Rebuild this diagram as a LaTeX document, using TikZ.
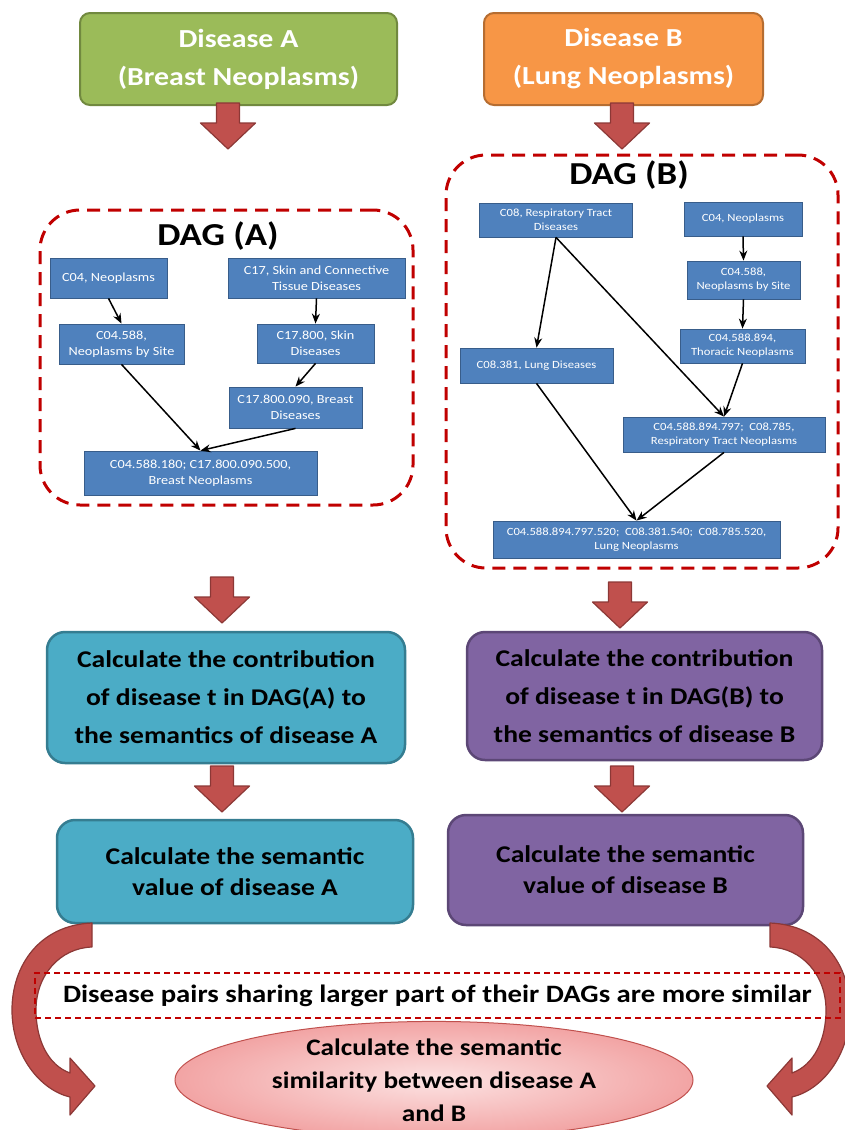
\documentclass[tikz,border=0pt]{standalone}
\usepackage{fontspec}
\setmainfont{Carlito}[FakeStretch=1.15]
\usetikzlibrary{arrows.meta,shapes.geometric}
\definecolor{leafgreen}{HTML}{9BBB59}
\definecolor{leafgreendark}{HTML}{71893F}
\definecolor{peach}{HTML}{F79646}
\definecolor{peachdark}{HTML}{B66D31}
\definecolor{brick}{HTML}{C0504D}
\definecolor{brickdark}{HTML}{8C3836}
\definecolor{meshblue}{HTML}{4F81BD}
\definecolor{meshbluedark}{HTML}{385D8A}
\definecolor{aqua}{HTML}{4BACC6}
\definecolor{aquadark}{HTML}{357D91}
\definecolor{grape}{HTML}{8064A2}
\definecolor{grapedark}{HTML}{5C4776}
\definecolor{dagred}{HTML}{C00000}
\definecolor{rosein}{HTML}{FCE2E2}
\definecolor{roseout}{HTML}{F2A4A4}
\tikzstyle{disease}=[draw, line width=2pt, rounded corners=10pt, text=white, align=center, inner sep=0pt, font=\bfseries\fontsize{26}{38}\selectfont]
\tikzstyle{dagframe}=[draw=dagred, line width=3pt, dash pattern=on 13pt off 8pt, rounded corners=40pt, inner sep=0pt]
\tikzstyle{dagtitle}=[inner sep=0pt, font=\bfseries\fontsize{32}{36}\selectfont]
\tikzstyle{term}=[draw=meshbluedark, fill=meshblue, line width=0.8pt, text=white, align=center, inner sep=0pt]
\tikzstyle{termA}=[term, font=\fontsize{12.4}{16}\selectfont]
\tikzstyle{termB}=[term, font=\fontsize{11}{14}\selectfont]
\tikzstyle{isa}=[-{Stealth[length=10pt,width=8pt]}, line width=1.5pt]
\tikzstyle{calcbox}=[draw, line width=2.5pt, rounded corners=18pt, align=center, inner sep=0pt, font=\bfseries\fontsize{24}{38}\selectfont]
\tikzstyle{valuebox}=[calcbox, font=\bfseries\fontsize{24}{31}\selectfont]
\tikzstyle{redarrow}=[fill=brick, draw=brickdark, line width=1.2pt, line join=round]
\tikzset{downarrow/.pic={\draw[redarrow] (-11.5,0) -- (11.5,0) -- (11.5,20) -- (27.5,20) -- (0,46) -- (-27.5,20) -- (-11.5,20) -- cycle;}}

\begin{document}
\begin{tikzpicture}[x=1pt, y=-1pt]
\useasboundingbox (0,0) rectangle (845,1130);
% Diseases
    \node[disease, fill=leafgreen, draw=leafgreendark, minimum width=317pt, minimum height=92pt] (disA) at (238.5,59) {Disease A\\(Breast Neoplasms)};
    \node[disease, fill=peach, draw=peachdark, minimum width=279pt, minimum height=92pt] (disB) at (623.5,59) {Disease B\\(Lung Neoplasms)};
    \pic at (228,103) {downarrow};
    \pic at (622,103) {downarrow};
% DAG frames
    \node[dagframe, minimum width=373pt, minimum height=295pt] (dagA) at (226.5,357.5) {};
    \node[dagframe, minimum width=392pt, minimum height=413pt] (dagB) at (642,361.5) {};
    \node[dagtitle] (titA) at (218,236) {DAG (A)};
    \node[dagtitle] (titB) at (629,175) {DAG (B)};
% DAG (A)
    \node[termA, minimum width=117pt, minimum height=40pt] (a04) at (108.5,278) {C04, Neoplasms};
    \node[termA, minimum width=177pt, minimum height=40pt] (a17) at (316.5,278) {C17, Skin and Connective\\Tissue Diseases};
    \node[termA, minimum width=125pt, minimum height=40pt] (a588) at (121.5,344) {C04.588,\\Neoplasms by Site};
    \node[termA, minimum width=117pt, minimum height=39pt] (a800) at (315.5,343.5) {C17.800, Skin\\Diseases};
    \node[termA, minimum width=133pt, minimum height=41pt] (a090) at (295.5,407.5) {C17.800.090, Breast\\Diseases};
    \node[termA, minimum width=233pt, minimum height=44pt] (aBN) at (200.5,473) {C04.588.180; C17.800.090.500,\\Breast Neoplasms};
    \draw[isa] (a04.south) -- (a588.north);
    \draw[isa] (a17.south) -- (a800.north);
    \draw[isa] (a800.south) -- (a090.north);
    \draw[isa] (a588.south) -- (aBN.north);
    \draw[isa] (a090.south) -- (aBN.north);
% DAG (B)
    \node[termB, minimum width=153pt, minimum height=34pt] (b08) at (556,220) {C08, Respiratory Tract\\Diseases};
    \node[termB, minimum width=118pt, minimum height=34pt] (b04) at (743,219) {C04, Neoplasms};
    \node[termB, minimum width=113pt, minimum height=38pt] (b588) at (743.5,280) {C04.588,\\Neoplasms by Site};
    \node[termB, minimum width=125pt, minimum height=34pt] (b894) at (742.5,346) {C04.588.894,\\Thoracic Neoplasms};
    \node[termB, minimum width=153pt, minimum height=35pt] (b381) at (536.5,365.5) {C08.381, Lung Diseases};
    \node[termB, minimum width=202pt, minimum height=35pt] (b797) at (724,434.5) {C04.588.894.797;\ \ C08.785,\\Respiratory Tract Neoplasms};
    \node[termB, minimum width=287pt, minimum height=37pt] (bLN) at (636.5,539.5) {C04.588.894.797.520;\ \ C08.381.540;\ \ C08.785.520,\\Lung Neoplasms};
    \draw[isa] (b08.south) -- (b381.north);
    \draw[isa] (b08.south) -- (b797.north);
    \draw[isa] (b04.south) -- (b588.north);
    \draw[isa] (b588.south) -- (b894.north);
    \draw[isa] (b894.south) -- (b797.north);
    \draw[isa] (b381.south) -- (bLN.north);
    \draw[isa] (b797.south) -- (bLN.north);
% Contributions and semantic values
    \pic at (222,577) {downarrow};
    \pic at (620,582) {downarrow};
    \node[calcbox, fill=aqua, draw=aquadark, minimum width=358pt, minimum height=131pt] (contA) at (226,697.5) {Calculate the contribution\\of disease t in DAG(A) to\\the semantics of disease A};
    \node[calcbox, fill=grape, draw=grapedark, minimum width=355pt, minimum height=128pt] (contB) at (644.5,696) {Calculate the contribution\\of disease t in DAG(B) to\\the semantics of disease B};
    \pic at (222,766) {downarrow};
    \pic at (622,766) {downarrow};
    \node[valuebox, fill=aqua, draw=aquadark, minimum width=356pt, minimum height=103pt] (valA) at (235,871.5) {Calculate the semantic\\value of disease A};
    \node[valuebox, fill=grape, draw=grapedark, minimum width=355pt, minimum height=110pt] (valB) at (625.5,870) {Calculate the semantic\\value of disease B};
% Curved arrows
    \draw[redarrow] (92,923) .. controls (40,925) and (12,965) .. (12,1010) .. controls (12,1055) and (40,1090) .. (70,1097) -- (70,1115) -- (95,1086) -- (70,1058) -- (70,1073) .. controls (48,1065) and (36,1040) .. (36,1010) .. controls (36,975) and (60,948) .. (92,947) -- cycle;
    \begin{scope}[xshift=862pt, xscale=-1]
    \draw[redarrow] (92,923) .. controls (40,925) and (12,965) .. (12,1010) .. controls (12,1055) and (40,1090) .. (70,1097) -- (70,1115) -- (95,1086) -- (70,1058) -- (70,1073) .. controls (48,1065) and (36,1040) .. (36,1010) .. controls (36,975) and (60,948) .. (92,947) -- cycle;
    \end{scope}
% Similarity
    \node[draw=dagred, line width=1.8pt, dash pattern=on 6pt off 4pt, minimum width=805pt, minimum height=45pt, inner sep=0pt, font=\bfseries\fontsize{25}{30}\selectfont] (note) at (437.5,995.5) {Disease pairs sharing larger part of their DAGs are more similar};
    \node[ellipse, draw=brick, line width=1pt, inner color=rosein, outer color=roseout, minimum width=518pt, minimum height=96pt, inner sep=0pt, align=center, font=\bfseries\fontsize{23.7}{33}\selectfont] (simAB) at (434,1080) {Calculate the semantic\\similarity between disease A\\and B};
\end{tikzpicture}
\end{document}
